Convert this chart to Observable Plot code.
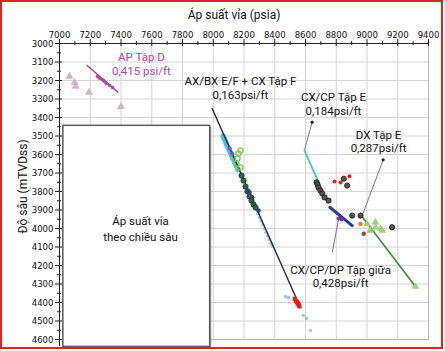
<!DOCTYPE html>
<html><head><meta charset="utf-8">
<script src="https://cdn.jsdelivr.net/npm/d3@7"></script>
<script src="https://cdn.jsdelivr.net/npm/@observablehq/plot@0.6"></script>
<style>body{margin:0;background:#fff}#chart svg{display:block}</style>
</head><body><div id="chart"></div><script>
// ---- tick values ----
const xTicks = [7000,7200,7400,7600,7800,8000,8200,8400,8600,8800,9000,9200,9400];
const xMinor = [7100,7300,7500,7700,7900,8100,8300,8500,8700,8900,9100,9300];
const yTicks = [3000,3100,3200,3300,3400,3500,3600,3700,3800,3900,4000,4100,4200,4300,4400,4500,4600];
const yMinor = [3050,3150,3250,3350,3450,3550,3650,3750,3850,3950,4050,4150,4250,4350,4450,4550];

// ---- AP Tập D ----
const apLineX = [7180, 7379];
const apLineY = [3119, 3263];
const apPtX = [7247, 7258, 7267, 7280, 7286, 7298, 7306, 7325, 7345];
const apPtY = [3178, 3186, 3189, 3196, 3200, 3210, 3216, 3227, 3238];
const apTriX = [7065, 7098, 7104, 7192, 7400];
const apTriY = [3178, 3211, 3232, 3265, 3341];

// ---- AX/BX E/F + CX Tập F ----
const axLineX = [7993, 8556];
const axLineY = [3351, 4407];
const axCyanX = [8064, 8072, 8080, 8087, 8095, 8104, 8112, 8120, 8128, 8139, 8150, 8161];
const axCyanY = [3500, 3515, 3530, 3545, 3560, 3575, 3590, 3605, 3620, 3640, 3660, 3680];
const axPurpleX = [8106, 8123];
const axPurpleY = [3568, 3595];
const axOpenGreenX = [8164, 8177, 8151, 8177, 8158];
const axOpenGreenY = [3595, 3578, 3649, 3670, 3622];
const axDarkGreenX = [8184, 8197, 8210, 8223, 8236, 8249, 8262, 8275];
const axDarkGreenY = [3714, 3741, 3773, 3800, 3827, 3849, 3870, 3886];
const axDarkBlueX = [8221, 8236, 8253, 8294];
const axDarkBlueY = [3795, 3805, 3831, 3903];
const axLightBlueX = [8281, 8291, 8302, 8312, 8323, 8333, 8344, 8355, 8366, 8376, 8384, 8470, 8489, 8548, 8567, 8587, 8607, 8632];
const axLightBlueY = [3900, 3920, 3940, 3960, 3980, 4000, 4020, 4040, 4060, 4080, 4095, 4368, 4373, 4400, 4425, 4470, 4486, 4551];
const axRedX = [8530, 8538, 8545, 8550, 8556, 8560];
const axRedY = [4380, 4392, 4398, 4405, 4412, 4420];

// ---- CX/CP Tập E ----
const cxeLineX = [8593, 8743];
const cxeLineY = [3578, 3859];
const cxeDarkX = [8672, 8678, 8684, 8697, 8709, 8724, 8750];
const cxeDarkY = [3750, 3762, 3778, 3795, 3811, 3832, 3849];

// ---- DX Tập E ----
const dxRedX = [8789, 8828, 8845, 8886];
const dxRedY = [3746, 3751, 3731, 3717];
const dxDarkX = [8849, 8871, 8904, 8958, 9163];
const dxDarkY = [3731, 3768, 3930, 3930, 3993];
const dxLineX = [8958, 9315];
const dxLineY = [3924, 4314];
const dxTriX = [9001, 9055, 9088, 9099, 9055, 9021, 9315];
const dxTriY = [3975, 3966, 4002, 4011, 3993, 4011, 4314];
const dxOrangeX = [8958];
const dxOrangeY = [3975];
const dxDarkRedX = [8979];
const dxDarkRedY = [4028];

// ---- CX/CP/DP Tập giữa ----
const midLineX = [8758, 8904];
const midLineY = [3885, 3984];
const midPtX = [8815, 8834];
const midPtY = [3946, 3951];

// ---- annotations ----
const labelText = ["AP Tập D\n0,415 psi/ft", "AX/BX E/F + CX Tập F\n0,163psi/ft", "CX/CP Tập E\n0,184psi/ft", "DX Tập E\n0,287psi/ft", "CX/CP/DP Tập giữa\n0,428psi/ft"];
const labelX = [7533, 8177, 8782, 9075, 8828];
const labelY = [3108, 3238, 3326, 3528, 4257];
const labelColor = ["#b0479f", "#111", "#111", "#111", "#111"];
const leaderX1 = [8643, 9105, 8774];
const leaderY1 = [3425, 3629, 4130];
const leaderX2 = [8593, 8969, 8817];
const leaderY2 = [3578, 3930, 3941];
const insetX = [7025, 7980];
const insetY = [3445, 4640];
const insetTextX = 7527;
const insetTextY = 3995;

const pts = (xs, ys) => xs.map((x, i) => ({x, y: ys[i]}));
const line = (xs, ys, stroke, strokeWidth) => Plot.line(pts(xs, ys), {x: "x", y: "y", stroke, strokeWidth});
const dots = (xs, ys, o) => Plot.dot(pts(xs, ys), {x: "x", y: "y", ...o});

const W = 445, H = 351, mT = 43, mL = 59, mR = 17, mB = 12;
const plotW = W - mL - mR, plotH = H - mT - mB;
const tickFont = "'Liberation Sans Narrow','DejaVu Sans Condensed',sans-serif";
const textFont = "Roboto, 'Open Sans', sans-serif";

const labels = labelText.map((t, i) => ({t, x: labelX[i], y: labelY[i], c: labelColor[i]}));
const leaders = leaderX1.map((x1, i) => ({x1, y1: leaderY1[i], x2: leaderX2[i], y2: leaderY2[i]}));
const box = [{x1: insetX[0], x2: insetX[1], y1: insetY[0], y2: insetY[1]}];

const chart = Plot.plot({
  width: W, height: H, marginTop: mT, marginLeft: mL, marginRight: mR, marginBottom: mB,
  style: {fontFamily: textFont, background: "#fff", color: "#111"},
  x: {domain: [7000, 9400], axis: null},
  y: {domain: [3000, 4600], reverse: true, axis: null},
  marks: [
    Plot.gridX(xTicks, {stroke: "#d4d4d4", strokeOpacity: 1}),
    Plot.gridY(yTicks, {stroke: "#d4d4d4", strokeOpacity: 1}),
    Plot.frame({stroke: "#b5b5b5"}),
    // inset box
    Plot.rect(box, {x1: "x1", x2: "x2", y1: "y1", y2: "y2", fill: "#9a9a9a", dx: 1.5, dy: 1.5}),
    Plot.rect(box, {x1: "x1", x2: "x2", y1: "y1", y2: "y2", fill: "white", stroke: "#5a5a5a", strokeWidth: 1.5}),
    Plot.text(["Áp suất vỉa\ntheo chiều sâu"], {x: () => insetTextX, y: () => insetTextY, fontSize: 11.5, lineHeight: 1.4, fill: "#111"}),
    // axes
    Plot.ruleY([3000], {stroke: "#222", strokeWidth: 1}),
    Plot.ruleX([7000], {stroke: "#222", strokeWidth: 1, insetBottom: -7}),
    Plot.tickX(xTicks, {x: d => d, stroke: "#222", insetTop: -4, insetBottom: plotH - 3}),
    Plot.tickX(xMinor, {x: d => d, stroke: "#222", insetTop: -2, insetBottom: plotH - 2}),
    Plot.tickY(yTicks, {y: d => d, stroke: "#222", insetLeft: -4, insetRight: plotW - 3}),
    Plot.tickY(yMinor, {y: d => d, stroke: "#222", insetLeft: -2, insetRight: plotW - 2}),
    Plot.axisX(xTicks, {anchor: "top", tickSize: 0, tickPadding: 6, fontSize: 9.5, fontFamily: tickFont, label: null, tickFormat: d => String(d)}),
    Plot.axisY(yTicks, {anchor: "left", tickSize: 0, tickPadding: 6, fontSize: 9.5, fontFamily: tickFont, label: null, tickFormat: d => String(d)}),
    Plot.text(["Áp suất vỉa (psia)"], {frameAnchor: "top", dx: -10, dy: -28, lineAnchor: "middle", fontSize: 12, fill: "#111"}),
    Plot.text(["Độ sâu (mTVDss)"], {frameAnchor: "left", dx: -36.5, dy: -5, rotate: -90, textAnchor: "middle", lineAnchor: "middle", fontSize: 12, fill: "#111"}),
    // leaders
    Plot.link(leaders, {x1: "x1", y1: "y1", x2: "x2", y2: "y2", stroke: "#7a7a7a", strokeWidth: 1}),
    dots(leaderX1.slice(0, 2), leaderY1.slice(0, 2), {r: 1.6, fill: "#222"}),
    // AP Tập D
    dots(apTriX, apTriY, {symbol: "triangle", r: 3, fill: "#cdb5c8"}),
    line(apLineX, apLineY, "#b0479f", 1.6),
    dots(apPtX, apPtY, {r: 1.8, fill: "#b0479f"}),
    // AX/BX
    dots(axCyanX, axCyanY, {r: 2.8, fill: "#45c0ea"}),
    dots(axLightBlueX, axLightBlueY, {r: 1.8, fill: "#9cc6ea"}),
    line(axLineX, axLineY, "#2a2a2a", 1.4),
    dots(axPurpleX, axPurpleY, {r: 2.2, fill: "#7a5cc0"}),
    dots(axOpenGreenX, axOpenGreenY, {r: 2.6, stroke: "#8cc34a", strokeWidth: 1.2, fill: "none"}),
    dots(axDarkGreenX, axDarkGreenY, {r: 2.6, fill: "#2f6b38", stroke: "#14321a", strokeWidth: 0.8}),
    dots(axDarkBlueX, axDarkBlueY, {r: 2.2, fill: "#2c3c8f"}),
    dots(axRedX, axRedY, {symbol: "square", r: 2.4, fill: "#e3231c"}),
    // CX/CP Tập E
    line(cxeLineX, cxeLineY, "#5cc6bf", 2),
    dots(cxeDarkX, cxeDarkY, {r: 2.6, fill: "#555", stroke: "#111", strokeWidth: 0.8}),
    // DX Tập E
    dots(dxRedX, dxRedY, {r: 2, fill: "#e3231c"}),
    line(midLineX, midLineY, "#2b3a96", 3),
    dots(midPtX, midPtY, {r: 2, fill: "#8a2f8e"}),
    line(dxLineX, dxLineY, "#3d8b36", 1.6),
    dots(dxTriX, dxTriY, {symbol: "triangle", r: 2.8, fill: "#9fd17c"}),
    dots(dxDarkX, dxDarkY, {r: 2.6, fill: "#555", stroke: "#111", strokeWidth: 0.8}),
    dots(dxOrangeX, dxOrangeY, {r: 2.2, fill: "#f07a2a"}),
    dots(dxDarkRedX, dxDarkRedY, {r: 2.2, fill: "#a63a3a"}),
    // labels
    Plot.text(labels, {x: "x", y: "y", text: "t", fill: "c", fontSize: 11.5, lineHeight: 1.2})
  ]
});
d3.select(chart).append("rect")
  .attr("x", 1).attr("y", 1).attr("width", 441).attr("height", 347)
  .attr("fill", "none").attr("stroke", "#e5201f").attr("stroke-width", 2);
document.getElementById("chart").append(chart);
</script></body></html>
